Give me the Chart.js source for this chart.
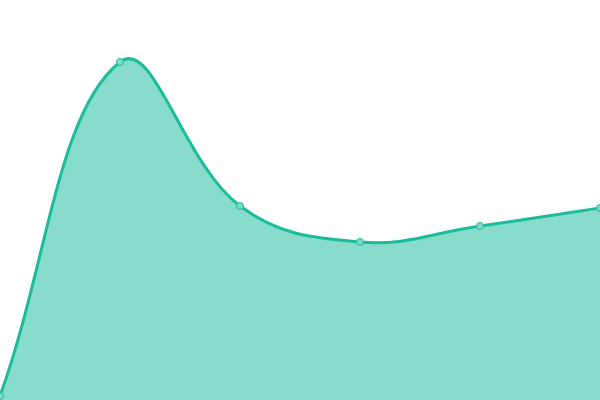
<!DOCTYPE html>
<html><head><meta charset="utf-8">
<script src="https://cdn.jsdelivr.net/npm/chart.js@4"></script>
<style>html,body{margin:0;padding:0;background:#fff}#w{width:600px;height:400px}</style>
</head><body><div id="w"><canvas id="c" width="600" height="400"></canvas></div>
<script>
const labels = ['A','B','C','D','E','F'];
const values = [4, 338, 194, 158, 174, 192];
new Chart(document.getElementById('c'), {
  type: 'line',
  data: { labels: labels, datasets: [{
    data: values,
    fill: 'origin',
    backgroundColor: 'rgba(26,188,156,0.52)',
    borderColor: '#1abc9c',
    borderWidth: 3,
    tension: 0.4,
    pointRadius: 3.5,
    pointBorderWidth: 1,
    pointBackgroundColor: '#7fdac8',
    pointBorderColor: '#1abc9c'
  }]},
  options: {
    responsive: false, animation: false, devicePixelRatio: 1,
    layout: { padding: 0, autoPadding: false },
    plugins: { legend: { display: false }, tooltip: { enabled: false } },
    scales: {
      x: { display: false, offset: false },
      y: { display: false, min: 0, max: 400 }
    }
  }
});
</script></body></html>
